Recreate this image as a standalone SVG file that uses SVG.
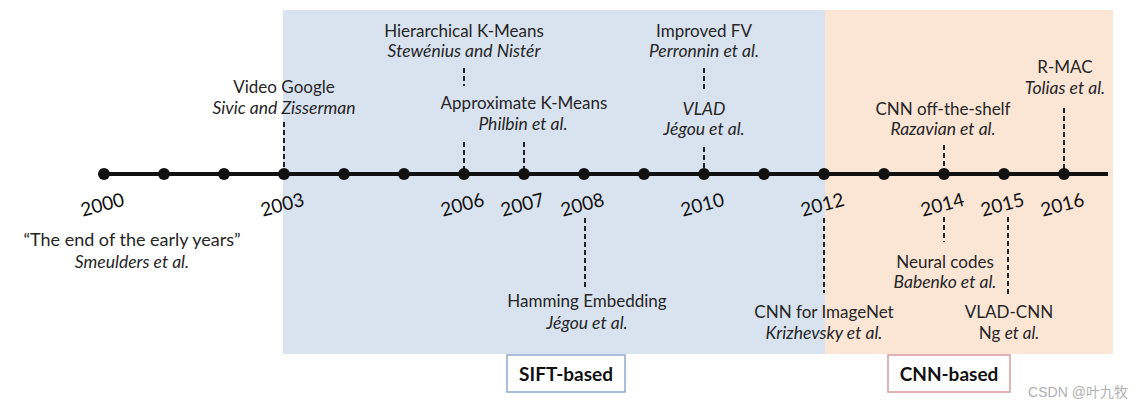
<svg xmlns="http://www.w3.org/2000/svg" width="1143" height="409" viewBox="0 0 1143 409">
<style>
text{font-family:Lato,"Liberation Sans",sans-serif;fill:#262626;text-anchor:middle}
.t{font-size:17px}
.i{font-size:17.5px;font-style:italic}
.yr{font-size:19px;fill:#111}
.b{font-size:19px;font-weight:bold;fill:#111}
.d{stroke:#222;stroke-width:2;stroke-dasharray:5 3;fill:none}
.dot{fill:#111}
</style>
<rect id="sift-bg" x="283" y="10" width="542" height="344" fill="#d9e3f0"/>
<rect id="cnn-bg" x="825" y="10" width="288" height="344" fill="#fbe5d5"/>
<g id="connectors">
<line class="d" x1="284" y1="122" x2="284" y2="174"/>
<line class="d" x1="464" y1="68" x2="464" y2="86"/>
<line class="d" x1="464" y1="142" x2="464" y2="174"/>
<line class="d" x1="524" y1="142" x2="524" y2="174"/>
<line class="d" x1="704" y1="68" x2="704" y2="90"/>
<line class="d" x1="704" y1="147" x2="704" y2="174"/>
<line class="d" x1="944" y1="145" x2="944" y2="174"/>
<line class="d" x1="1064" y1="108" x2="1064" y2="174"/>
<line class="d" x1="585" y1="218" x2="585" y2="288"/>
<line class="d" x1="824" y1="218" x2="824" y2="293"/>
<line class="d" x1="944" y1="217" x2="944" y2="242"/>
<line class="d" x1="1008" y1="217" x2="1008" y2="295"/>
</g>
<g id="timeline">
<line x1="104" y1="174" x2="1108" y2="174" stroke="#111" stroke-width="4"/>
<circle class="dot" cx="104" cy="174" r="6"/><circle class="dot" cx="164" cy="174" r="6"/><circle class="dot" cx="224" cy="174" r="6"/><circle class="dot" cx="284" cy="174" r="6"/><circle class="dot" cx="344" cy="174" r="6"/><circle class="dot" cx="404" cy="174" r="6"/><circle class="dot" cx="464" cy="174" r="6"/><circle class="dot" cx="524" cy="174" r="6"/><circle class="dot" cx="584" cy="174" r="6"/><circle class="dot" cx="644" cy="174" r="6"/><circle class="dot" cx="704" cy="174" r="6"/><circle class="dot" cx="764" cy="174" r="6"/><circle class="dot" cx="824" cy="174" r="6"/><circle class="dot" cx="884" cy="174" r="6"/><circle class="dot" cx="944" cy="174" r="6"/><circle class="dot" cx="1004" cy="174" r="6"/><circle class="dot" cx="1064" cy="174" r="6"/>
</g>
<g id="years">
<text class="yr" transform="translate(104,211) rotate(-15)">2000</text>
<text class="yr" transform="translate(284,211) rotate(-15)">2003</text>
<text class="yr" transform="translate(464,211) rotate(-15)">2006</text>
<text class="yr" transform="translate(524,211) rotate(-15)">2007</text>
<text class="yr" transform="translate(584,211) rotate(-15)">2008</text>
<text class="yr" transform="translate(704,211) rotate(-15)">2010</text>
<text class="yr" transform="translate(824,211) rotate(-15)">2012</text>
<text class="yr" transform="translate(944,211) rotate(-15)">2014</text>
<text class="yr" transform="translate(1004,211) rotate(-15)">2015</text>
<text class="yr" transform="translate(1064,211) rotate(-15)">2016</text>
</g>
<g id="n-video-google"><text class="t" x="284" y="93">Video Google</text><text class="i" x="284" y="114">Sivic and Zisserman</text></g>
<g id="n-hkm"><text class="t" x="464" y="37">Hierarchical K-Means</text><text class="i" x="464" y="57">Stewénius and Nistér</text></g>
<g id="n-akm"><text class="t" x="524" y="109">Approximate K-Means</text><text class="i" x="523" y="130">Philbin et al.</text></g>
<g id="n-ifv"><text class="t" x="704" y="37">Improved FV</text><text class="i" x="704" y="57">Perronnin et al.</text></g>
<g id="n-vlad"><text class="i" x="704" y="115">VLAD</text><text class="i" x="704" y="135">Jégou et al.</text></g>
<g id="n-cnnots"><text class="t" x="943" y="115">CNN off-the-shelf</text><text class="i" x="943" y="135">Razavian et al.</text></g>
<g id="n-rmac"><text class="t" x="1065" y="73">R-MAC</text><text class="i" x="1065" y="94">Tolias et al.</text></g>
<g id="n-early"><text class="t" x="132" y="246" style="font-size:18px">“The end of the early years”</text><text class="i" x="132" y="268">Smeulders et al.</text></g>
<g id="n-he"><text class="t" x="587" y="307">Hamming Embedding</text><text class="i" x="587" y="329">Jégou et al.</text></g>
<g id="n-cnnimagenet"><text class="t" x="824" y="318">CNN for ImageNet</text><text class="i" x="824" y="339">Krizhevsky et al.</text></g>
<g id="n-neural"><text class="t" x="945" y="268">Neural codes</text><text class="i" x="945" y="288">Babenko et al.</text></g>
<g id="n-vladcnn"><text class="t" x="1009" y="318">VLAD-CNN</text><text class="t" x="1009" y="339">Ng <tspan font-style="italic">et al.</tspan></text></g>
<g id="sift-label"><rect x="507" y="355" width="118" height="37" fill="#fff" stroke="#8fa8cf" stroke-width="1.5"/><text class="b" x="566" y="381">SIFT-based</text></g>
<g id="cnn-label"><rect x="888" y="355" width="122" height="37" fill="#fff" stroke="#d99a9a" stroke-width="1.5"/><text class="b" x="949" y="381">CNN-based</text></g>
<text x="1078" y="397" style="font-size:14px;fill:#b0b0b0;font-family:'Liberation Sans','Noto Sans CJK SC',sans-serif">CSDN @叶九牧</text>
</svg>
